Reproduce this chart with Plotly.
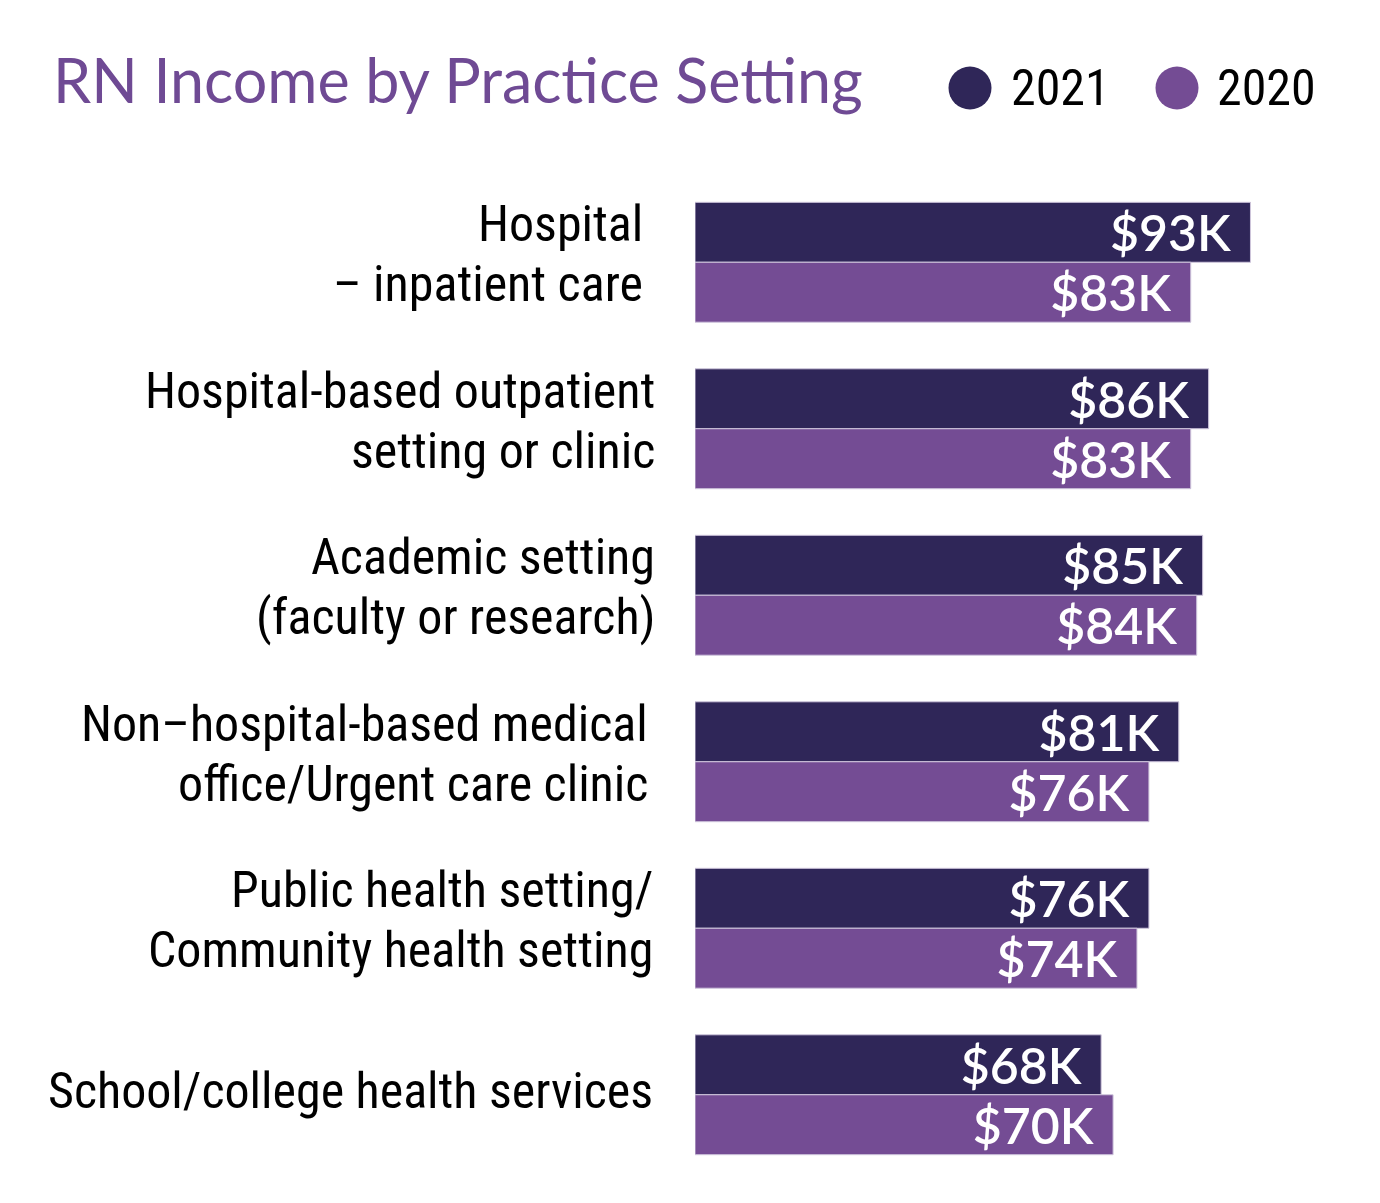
import plotly.graph_objects as go

categories = [
    "Hospital\n– inpatient care",
    "Hospital-based outpatient\nsetting or clinic",
    "Academic setting\n(faculty or research)",
    "Non–hospital-based medical\noffice/Urgent care clinic",
    "Public health setting/\nCommunity health setting",
    "School/college health services",
]
income_2021 = [93, 86, 85, 81, 76, 68]
income_2020 = [83, 83, 84, 76, 74, 70]
series_names = ["2021", "2020"]
title_text = "RN Income by Practice Setting"

DARK = "#2f2658"
PURPLE = "#744c94"
LABEL_FONT = "Roboto Condensed, Liberation Sans Narrow, DejaVu Sans Condensed, Roboto, sans-serif"
VALUE_FONT = "Lato, Open Sans, sans-serif"

W, H = 1380, 1203
ML, MR, MT, MB = 695, 28, 179, 25
label_gap = [-50, -38, -38, -45, -40, -40]

fig = go.Figure()
for name, vals, col in [(series_names[0], income_2021, DARK), (series_names[1], income_2020, PURPLE)]:
    fig.add_trace(go.Bar(
        y=categories, x=vals, name=name, orientation="h",
        marker=dict(color=col, line=dict(color="#cfc6dc", width=1)),
        text=[f"${v}K\u2004" for v in vals],
        textposition="inside", insidetextanchor="end", constraintext="none",
        textfont=dict(family=VALUE_FONT, size=50, color="white", weight=600),
        hoverinfo="skip", showlegend=False,
    ))

annotations = []
for cat, gap in zip(categories, label_gap):
    lines = cat.split("\n")
    if len(lines) == 1:
        shifts = [4]
    else:
        shifts = [38, -22]
    for ln, ys in zip(lines, shifts):
        annotations.append(dict(
            x=0, y=cat, xref="x", yref="y", text=ln, showarrow=False,
            xanchor="right", yanchor="middle", xshift=gap, yshift=ys,
            font=dict(family=LABEL_FONT, size=50, color="#000000"),
        ))

pw = W - ML - MR
ph = H - MT - MB
def px2x(px):
    return (px - ML) / pw
def py2y(py):
    return (H - MB - py) / ph

# title
annotations.append(dict(
    x=px2x(51), y=py2y(80), xref="paper", yref="paper",
    text=title_text,
    showarrow=False, xanchor="left", yanchor="middle",
    font=dict(family="Lato, Open Sans, sans-serif", size=61, color="#6f4a94", weight=400),
))

# manual legend with circles
shapes = []
for name, col, cx, tx in [(series_names[0], DARK, 970, 1009), (series_names[1], PURPLE, 1177, 1215)]:
    shapes.append(dict(
        type="circle", xref="paper", yref="paper", xsizemode="pixel", ysizemode="pixel",
        xanchor=px2x(cx), yanchor=py2y(88), x0=-21.5, x1=21.5, y0=-21.5, y1=21.5,
        fillcolor=col, line=dict(width=0),
    ))
    annotations.append(dict(
        x=px2x(tx), y=py2y(88), xref="paper", yref="paper", text=name, showarrow=False,
        xanchor="left", yanchor="middle",
        font=dict(family=LABEL_FONT, size=50, color="#000000"),
    ))

fig.update_layout(
    width=W, height=H,
    margin=dict(l=ML, r=MR, t=MT, b=MB),
    paper_bgcolor="white", plot_bgcolor="white",
    barmode="group", bargap=0.28, bargroupgap=0,
    xaxis=dict(range=[0, 110], visible=False, fixedrange=True),
    yaxis=dict(autorange="reversed", showticklabels=False, showgrid=False,
               zeroline=False, showline=False, ticks="", fixedrange=True),
    annotations=annotations, shapes=shapes,
    showlegend=False,
)

fig.write_html("out.html", config={"displayModeBar": False},
               post_script="document.body.style.margin='0';")
